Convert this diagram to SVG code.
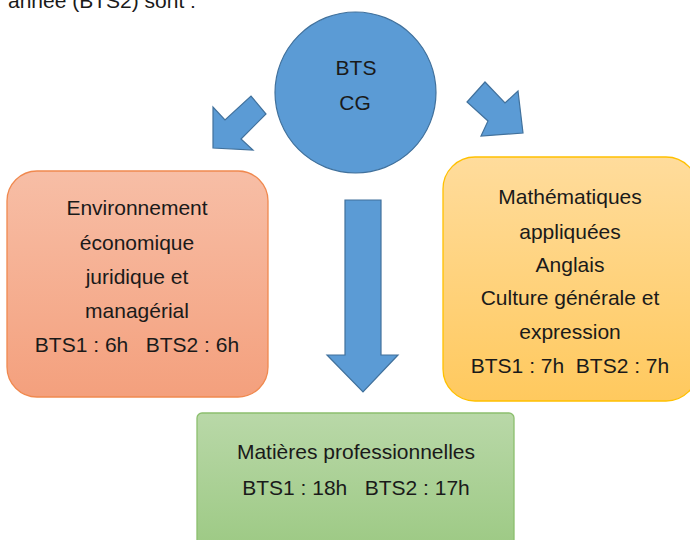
<svg xmlns="http://www.w3.org/2000/svg" width="690" height="540" viewBox="0 0 690 540">
<defs>
<linearGradient id="gO" x1="0" y1="0" x2="0" y2="1"><stop offset="0" stop-color="#F7BEA6"/><stop offset="1" stop-color="#F4A07D"/></linearGradient>
<linearGradient id="gY" x1="0" y1="0" x2="0" y2="1"><stop offset="0" stop-color="#FFDC9C"/><stop offset="1" stop-color="#FFC95E"/></linearGradient>
<linearGradient id="gG" x1="0" y1="0" x2="0" y2="1"><stop offset="0" stop-color="#B9D8A8"/><stop offset="1" stop-color="#9CC983"/></linearGradient>
</defs>
<style>
text{font-family:"Liberation Sans",Arial,sans-serif;font-size:21px;fill:#1a1a1a;text-anchor:middle;white-space:pre}
.arrow{fill:#5B9BD5;stroke:#41719C;stroke-width:1.2}
</style>
<rect width="690" height="540" fill="#ffffff"/>
<text x="8" y="8" style="text-anchor:start;font-size:21px">année (BTS2) sont :</text>
<g id="connectors">
<polygon class="arrow" points="213,148 213,107 225,120 251,96 266,114 241,139 253,150"/>
<polygon class="arrow" points="523,133 518,91 505,103 485,82 467,102 488,121 481,136"/>
<polygon class="arrow" points="345,200 381,200 381,355 398,355 363,392 327,355 345,355"/>
</g>
<g id="bts">
<circle cx="355.5" cy="92.5" r="80.5" fill="#5B9BD5" stroke="#41719C" stroke-width="1.2"/>
<text x="356" y="75">BTS</text>
<text x="355" y="110">CG</text>
</g>
<g id="eco">
<rect x="7" y="171" width="261" height="226" rx="30" fill="url(#gO)" stroke="#F0894F" stroke-width="1.3"/>
<text x="137" y="215">Environnement</text>
<text x="137" y="250">économique</text>
<text x="137" y="284">juridique et</text>
<text x="137" y="318">managérial</text>
<text x="137" y="352">BTS1 : 6h   BTS2 : 6h</text>
</g>
<g id="gen">
<rect x="443" y="157" width="255" height="244" rx="32" fill="url(#gY)" stroke="#FFC000" stroke-width="1.3"/>
<text x="570" y="204">Mathématiques</text>
<text x="570" y="239">appliquées</text>
<text x="570" y="272">Anglais</text>
<text x="570" y="305">Culture générale et</text>
<text x="570" y="339">expression</text>
<text x="570" y="373">BTS1 : 7h  BTS2 : 7h</text>
</g>
<g id="pro">
<rect x="197" y="413" width="317" height="140" rx="5" fill="url(#gG)" stroke="#8CBF6E" stroke-width="1.3"/>
<text x="356" y="459">Matières professionnelles</text>
<text x="356" y="495">BTS1 : 18h   BTS2 : 17h</text>
</g>
</svg>
